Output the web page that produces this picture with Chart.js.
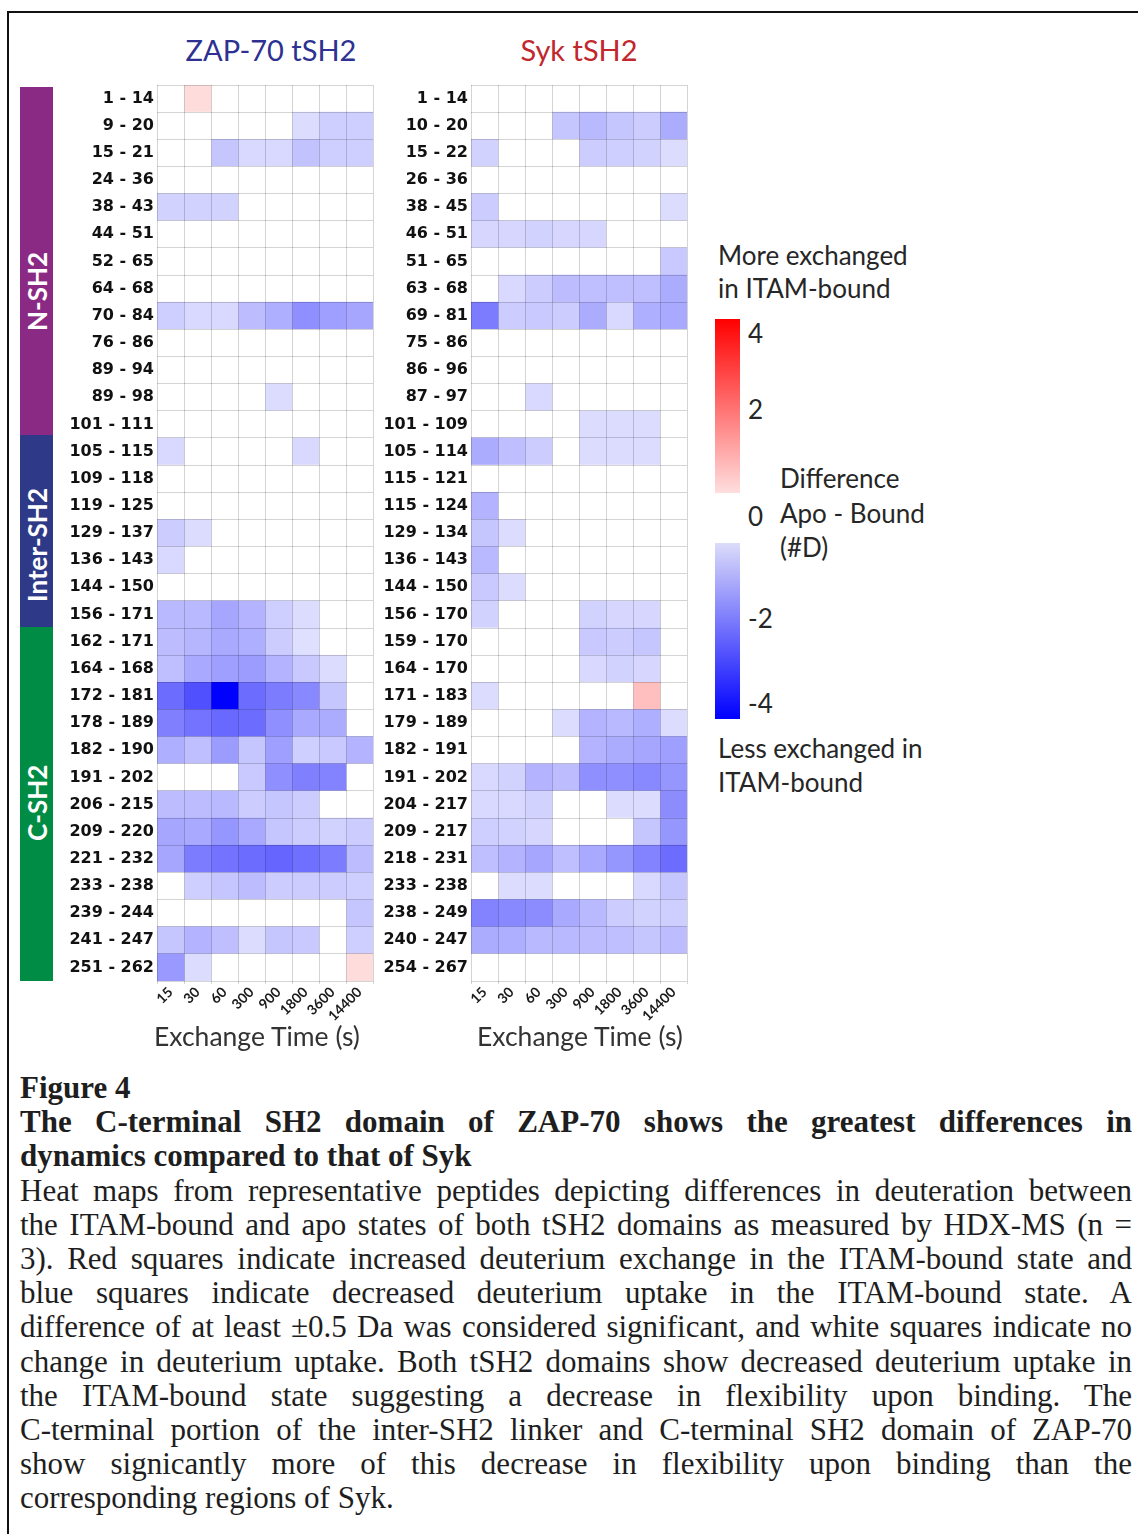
<!DOCTYPE html>
<html>
<head>
<meta charset="utf-8">
<script src="https://cdn.jsdelivr.net/npm/chart.js@4.4.1/dist/chart.umd.min.js"></script>
<style>
body{margin:0;width:1138px;height:1534px;overflow:hidden;background:#fff;position:relative;font-family:Lato,sans-serif;color:#262626;}
.abs{position:absolute;}
#frame{left:7px;top:11px;width:1300px;height:1700px;border:2px solid #111;box-sizing:border-box;}
.title{top:30px;width:300px;text-align:center;font-size:29px;line-height:40px;}
.domain{left:20px;width:33px;}
.domain span{position:absolute;left:0;width:33px;height:130px;margin-top:-65px;display:flex;align-items:center;justify-content:center;writing-mode:vertical-rl;transform:rotate(180deg);color:#fff;font-weight:bold;font-size:26px;}
.xtitle{top:1019px;width:300px;text-align:center;font-size:26.5px;line-height:34px;color:#333;}
.leg{font-size:26px;line-height:33px;}
.cap{left:20px;width:1112px;top:1071px;font-family:"Liberation Serif","Times New Roman",serif;font-size:31px;line-height:34.2px;color:#1e1e1e;}
.cap div{white-space:nowrap;}
.cap .j{text-align:justify;text-align-last:justify;}
.cap .b{font-weight:bold;}
</style>
</head>
<body>
<div id="frame" class="abs"></div>

<div class="abs title" style="left:121px;color:#2e3192;">ZAP-70 tSH2</div>
<div class="abs title" style="left:429px;color:#c1272d;">Syk tSH2</div>

<div class="abs domain" style="top:87px;height:348px;background:#8b2a85;"><span style="top:204px;">N-SH2</span></div>
<div class="abs domain" style="top:435px;height:192px;background:#2e3a87;"><span style="top:110px;">Inter-SH2</span></div>
<div class="abs domain" style="top:627px;height:354px;background:#008c44;"><span style="top:176px;">C-SH2</span></div>

<canvas id="zapChart" class="abs" width="320" height="941" style="left:60px;top:80px;"></canvas>
<canvas id="sykChart" class="abs" width="320" height="941" style="left:380px;top:80px;"></canvas>

<div class="abs xtitle" style="left:107px;">Exchange Time (s)</div>
<div class="abs xtitle" style="left:430px;">Exchange Time (s)</div>

<div class="abs leg" style="left:718px;top:239px;">More exchanged<br>in ITAM-bound</div>
<div class="abs" style="left:715px;top:319px;width:25px;height:174px;background:linear-gradient(to bottom,#ff0000,#ffdede);"></div>
<div class="abs" style="left:715px;top:543px;width:25px;height:176px;background:linear-gradient(to bottom,#dcdcfa,#0000ff);"></div>
<div class="abs leg" style="left:748px;top:317px;">4</div>
<div class="abs leg" style="left:748px;top:393px;">2</div>
<div class="abs leg" style="left:748px;top:500px;">0</div>
<div class="abs leg" style="left:748px;top:602px;">-2</div>
<div class="abs leg" style="left:748px;top:687px;">-4</div>
<div class="abs leg" style="left:780px;top:461px;line-height:34.5px;">Difference<br>Apo - Bound<br>(#D)</div>
<div class="abs leg" style="left:718px;top:731px;line-height:34px;">Less exchanged in<br>ITAM-bound</div>

<div class="abs cap">
<div class="b">Figure 4</div>
<div class="b j">The C-terminal SH2 domain of ZAP-70 shows the greatest differences in</div>
<div class="b">dynamics compared to that of Syk</div>
<div class="j">Heat maps from representative peptides depicting differences in deuteration between</div>
<div class="j">the ITAM-bound and apo states of both tSH2 domains as measured by HDX-MS (n =</div>
<div class="j">3). Red squares indicate increased deuterium exchange in the ITAM-bound state and</div>
<div class="j">blue squares indicate decreased deuterium uptake in the ITAM-bound state. A</div>
<div class="j">difference of at least ±0.5 Da was considered significant, and white squares indicate no</div>
<div class="j">change in deuterium uptake. Both tSH2 domains show decreased deuterium uptake in</div>
<div class="j">the ITAM-bound state suggesting a decrease in flexibility upon binding. The</div>
<div class="j">C-terminal portion of the inter-SH2 linker and C-terminal SH2 domain of ZAP-70</div>
<div class="j">show signicantly more of this decrease in flexibility upon binding than the</div>
<div>corresponding regions of Syk.</div>
</div>

<script>
// exchange time points (s)
const timeLabels = ['15', '30', '60', '300', '900', '1800', '3600', '14400'];

const zapPeptides = ['1 - 14', '9 - 20', '15 - 21', '24 - 36', '38 - 43', '44 - 51', '52 - 65', '64 - 68',
  '70 - 84', '76 - 86', '89 - 94', '89 - 98', '101 - 111', '105 - 115', '109 - 118', '119 - 125',
  '129 - 137', '136 - 143', '144 - 150', '156 - 171', '162 - 171', '164 - 168', '172 - 181', '178 - 189',
  '182 - 190', '191 - 202', '206 - 215', '209 - 220', '221 - 232', '233 - 238', '239 - 244', '241 - 247',
  '251 - 262'];

const sykPeptides = ['1 - 14', '10 - 20', '15 - 22', '26 - 36', '38 - 45', '46 - 51', '51 - 65', '63 - 68',
  '69 - 81', '75 - 86', '86 - 96', '87 - 97', '101 - 109', '105 - 114', '115 - 121', '115 - 124',
  '129 - 134', '136 - 143', '144 - 150', '156 - 170', '159 - 170', '164 - 170', '171 - 183', '179 - 189',
  '182 - 191', '191 - 202', '204 - 217', '209 - 217', '218 - 231', '233 - 238', '238 - 249', '240 - 247',
  '254 - 267'];

// difference apo - bound (#D), one row per peptide, one value per time point
const zapDiff = [
  [0, 0.55, 0, 0, 0, 0, 0, 0],
  [0, 0, 0, 0, 0, -0.55, -0.75, -0.75],
  [0, 0, -0.9, -0.6, -0.6, -0.95, -0.75, -0.75],
  [0, 0, 0, 0, 0, 0, 0, 0],
  [-0.7, -0.7, -0.7, 0, 0, 0, 0, 0],
  [0, 0, 0, 0, 0, 0, 0, 0],
  [0, 0, 0, 0, 0, 0, 0, 0],
  [0, 0, 0, 0, 0, 0, 0, 0],
  [-0.75, -0.6, -0.6, -1.05, -1.25, -1.75, -1.5, -1.4],
  [0, 0, 0, 0, 0, 0, 0, 0],
  [0, 0, 0, 0, 0, 0, 0, 0],
  [0, 0, 0, 0, -0.55, 0, 0, 0],
  [0, 0, 0, 0, 0, 0, 0, 0],
  [-0.6, 0, 0, 0, 0, -0.6, 0, 0],
  [0, 0, 0, 0, 0, 0, 0, 0],
  [0, 0, 0, 0, 0, 0, 0, 0],
  [-0.8, -0.55, 0, 0, 0, 0, 0, 0],
  [-0.6, 0, 0, 0, 0, 0, 0, 0],
  [0, 0, 0, 0, 0, 0, 0, 0],
  [-1.1, -1.1, -1.4, -1.2, -0.75, -0.55, 0, 0],
  [-1.05, -1.15, -1.35, -1.25, -0.8, -0.5, 0, 0],
  [-1.0, -1.35, -1.5, -1.55, -1.2, -0.85, -0.55, 0],
  [-2.3, -2.75, -4.0, -2.3, -2.05, -1.85, -0.9, 0],
  [-2.0, -2.2, -2.35, -2.3, -1.75, -1.35, -1.3, 0],
  [-1.25, -1.0, -1.55, -0.9, -1.5, -0.75, -0.85, -1.2],
  [0, 0, 0, -0.85, -1.75, -2.0, -1.95, 0],
  [-1.05, -1.05, -1.1, -0.8, -0.9, -0.8, 0, 0],
  [-1.4, -1.35, -1.65, -1.35, -0.9, -0.8, -0.7, -0.8],
  [-1.4, -2.05, -2.2, -2.3, -2.4, -2.25, -2.05, -1.05],
  [0, -0.75, -0.9, -1.05, -0.8, -0.8, -0.8, -0.75],
  [0, 0, 0, 0, 0, 0, 0, -0.9],
  [-0.9, -1.2, -1.0, -0.55, -0.9, -0.85, 0, -0.75],
  [-1.6, -0.55, 0, 0, 0, 0, 0, 0.55]
];

const sykDiff = [
  [0, 0, 0, 0, 0, 0, 0, 0],
  [0, 0, 0, -0.9, -1.1, -0.9, -0.8, -1.3],
  [-0.7, 0, 0, 0, -0.8, -0.75, -0.7, -0.55],
  [0, 0, 0, 0, 0, 0, 0, 0],
  [-0.8, 0, 0, 0, 0, 0, 0, -0.55],
  [-0.65, -0.65, -0.7, -0.65, -0.65, 0, 0, 0],
  [0, 0, 0, 0, 0, 0, 0, -0.85],
  [0, -0.6, -0.8, -1.05, -1.0, -1.0, -1.0, -1.3],
  [-2.05, -0.8, -0.85, -0.8, -1.3, -0.6, -1.25, -1.35],
  [0, 0, 0, 0, 0, 0, 0, 0],
  [0, 0, 0, 0, 0, 0, 0, 0],
  [0, 0, -0.6, 0, 0, 0, 0, 0],
  [0, 0, 0, 0, -0.55, -0.55, -0.55, 0],
  [-1.3, -1.0, -0.8, 0, -0.55, -0.55, -0.55, 0],
  [0, 0, 0, 0, 0, 0, 0, 0],
  [-1.2, 0, 0, 0, 0, 0, 0, 0],
  [-0.9, -0.55, 0, 0, 0, 0, 0, 0],
  [-1.1, 0, 0, 0, 0, 0, 0, 0],
  [-0.85, -0.55, 0, 0, 0, 0, 0, 0],
  [-0.7, 0, 0, 0, -0.7, -0.65, -0.65, 0],
  [0, 0, 0, 0, -0.85, -0.8, -0.9, 0],
  [0, 0, 0, 0, -0.6, -0.7, -0.65, 0],
  [-0.55, 0, 0, 0, 0, 0, 1.0, 0],
  [0, 0, 0, -0.55, -1.2, -1.1, -1.25, -0.55],
  [0, 0, 0, 0, -1.2, -1.3, -1.4, -1.5],
  [-0.6, -0.7, -1.2, -1.05, -1.75, -1.75, -1.85, -1.65],
  [-0.6, -0.6, -0.7, 0, 0, -0.55, -0.55, -1.8],
  [-0.75, -0.7, -0.65, 0, 0, 0, -0.9, -1.65],
  [-1.0, -1.2, -1.4, -1.0, -1.35, -1.65, -1.95, -2.3],
  [0, -0.55, -0.55, 0, 0, 0, -0.6, -0.9],
  [-1.95, -1.85, -1.8, -1.35, -1.1, -0.8, -0.7, -0.75],
  [-1.3, -1.25, -1.1, -1.1, -1.05, -1.0, -0.9, -1.05],
  [0, 0, 0, 0, 0, 0, 0, 0]
];

// white inside +-0.5, then white -> red / white -> blue up to 4
function cellColor(v) {
  if (Math.abs(v) < 0.5) return '#ffffff';
  const t = Math.min(Math.abs(v) / 4, 1);
  const c = Math.round(255 * (1 - t));
  return v < 0 ? 'rgb(' + c + ',' + c + ',255)' : 'rgb(255,' + c + ',' + c + ')';
}

function heatmap(id, peptides, diff, labelWidth, padRight) {
  // one floating bar per time column, spanning [col, col+1] on the x scale
  const datasets = timeLabels.map((t, col) => ({
    label: t,
    data: peptides.map(() => [col, col + 1]),
    backgroundColor: ctx => cellColor(diff[ctx.dataIndex][col]),
    borderWidth: 0,
    barPercentage: 1,
    categoryPercentage: 1,
    grouped: false
  }));

  return new Chart(id, {
    type: 'bar',
    data: { labels: peptides, datasets: datasets },
    options: {
      indexAxis: 'y',
      responsive: false,
      animation: false,
      layout: { padding: { top: 5, right: padRight, left: 0, bottom: 0 } },
      plugins: { legend: { display: false }, tooltip: { enabled: false } },
      scales: {
        x: {
          type: 'linear',
          min: 0,
          max: 8,
          afterBuildTicks: axis => { axis.ticks = timeLabels.map((_, i) => ({ value: i + 0.5 })); },
          afterFit: s => { s.height = 40; s.paddingLeft = 0; s.paddingRight = 0; },
          grid: { offset: true, z: 1, color: 'rgba(0,0,0,0.17)', tickLength: 3 },
          border: { display: false },
          ticks: {
            autoSkip: false,
            minRotation: 45,
            maxRotation: 45,
            padding: 0,
            color: '#1a1a1a',
            font: { family: 'Lato', weight: 'bold', size: 14 },
            callback: (v, i) => timeLabels[i]
          }
        },
        y: {
          afterFit: s => { s.width = labelWidth; s.paddingTop = 0; s.paddingBottom = 0; },
          grid: { z: 1, color: 'rgba(0,0,0,0.17)', drawTicks: false },
          border: { display: false },
          ticks: {
            padding: 3,
            color: '#111',
            font: { family: 'DejaVu Sans', weight: 'bold', size: 16 }
          }
        }
      }
    }
  });
}

heatmap('zapChart', zapPeptides, zapDiff, 97, 7);
heatmap('sykChart', sykPeptides, sykDiff, 91, 13);
</script>
</body>
</html>
